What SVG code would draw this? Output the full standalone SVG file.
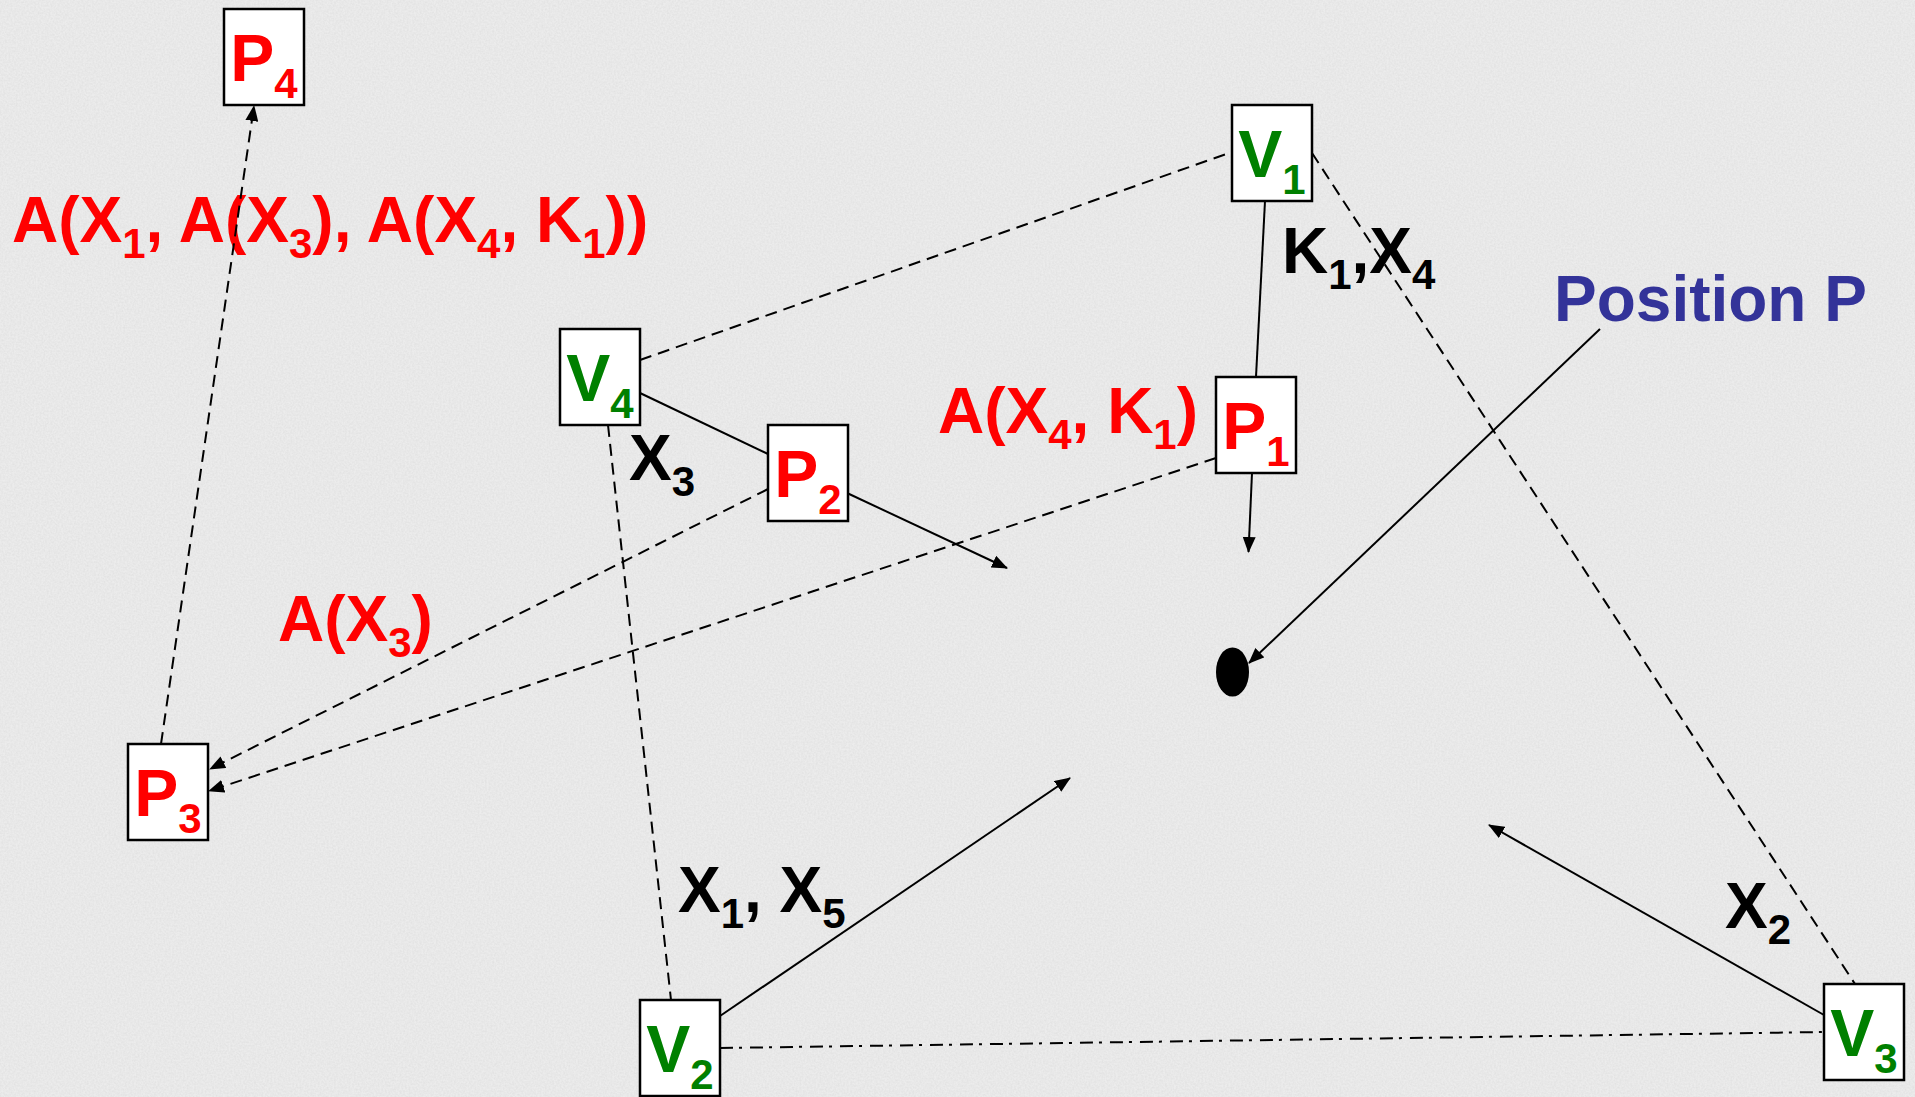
<svg xmlns="http://www.w3.org/2000/svg" width="1915" height="1097" viewBox="0 0 1915 1097">
<style>
.lbl{font-family:"Liberation Sans",Arial,sans-serif;font-weight:bold;font-size:64px}
.nt{font-family:"Liberation Sans",Arial,sans-serif;font-weight:bold;font-size:66px;text-anchor:middle}
.red{fill:#ff0000}
.grn{fill:#008000}
.blk{fill:#000}
.blu{fill:#333399}
.box{fill:#fff;stroke:#000;stroke-width:2.5}
.sol{fill:none;stroke:#000;stroke-width:2}
.dsh{fill:none;stroke:#000;stroke-width:2;stroke-dasharray:12 7}
.dd{fill:none;stroke:#000;stroke-width:2;stroke-dasharray:13 6 3 8}
.arr{marker-end:url(#ah)}
</style>
<defs>
<marker id="ah" markerUnits="userSpaceOnUse" markerWidth="16" markerHeight="13" refX="15" refY="6.5" orient="auto">
<path d="M0,0 L16,6.5 L0,13 z" fill="#000"/>
</marker>
<filter id="noise" x="0" y="0" width="100%" height="100%">
<feTurbulence type="fractalNoise" baseFrequency="0.55" numOctaves="2" seed="3" result="n"/>
<feColorMatrix type="matrix" values="0 0 0 0 0.55  0 0 0 0 0.55  0 0 0 0 0.55  0.9 0 0 0 -0.25" in="n"/>
</filter>
</defs>
<rect width="1915" height="1097" fill="#ececec"/>
<rect width="1915" height="1097" filter="url(#noise)" opacity="0.45"/>

<g id="labels">
<text class="lbl red" x="12" y="242">A(X<tspan font-size="42" dy="16">1</tspan><tspan dy="-16">, A(X</tspan><tspan font-size="42" dy="16">3</tspan><tspan dy="-16">), A(X</tspan><tspan font-size="42" dy="16">4</tspan><tspan dy="-16">, K</tspan><tspan font-size="42" dy="16">1</tspan><tspan dy="-16">))</tspan></text>
<text class="lbl blk" x="1282" y="273">K<tspan font-size="42" dy="16">1</tspan><tspan dy="-16">,X</tspan><tspan font-size="42" dy="16">4</tspan></text>
<text class="lbl blu" x="1554" y="321">Position P</text>
<text class="lbl red" x="938" y="433">A(X<tspan font-size="42" dy="16">4</tspan><tspan dy="-16">, K</tspan><tspan font-size="42" dy="16">1</tspan><tspan dy="-16">)</tspan></text>
<text class="lbl blk" x="629" y="480">X<tspan font-size="42" dy="16">3</tspan></text>
<text class="lbl red" x="278" y="641">A(X<tspan font-size="42" dy="16">3</tspan><tspan dy="-16">)</tspan></text>
<text class="lbl blk" x="678" y="912">X<tspan font-size="42" dy="16">1</tspan><tspan dy="-16">, X</tspan><tspan font-size="42" dy="16">5</tspan></text>
<text class="lbl blk" x="1725" y="928">X<tspan font-size="42" dy="16">2</tspan></text>
</g>

<g id="connectors">
<line class="dsh arr" x1="161" y1="744" x2="254" y2="106"/>
<line class="dsh" x1="640" y1="360" x2="1232" y2="152"/>
<line class="dsh" x1="1312" y1="153" x2="1855" y2="984"/>
<line class="sol" x1="1265" y1="201" x2="1256" y2="377"/>
<line class="sol arr" x1="1252" y1="473" x2="1248.5" y2="552"/>
<line class="sol" x1="640" y1="393" x2="768" y2="454"/>
<line class="sol arr" x1="847" y1="493" x2="1007" y2="568"/>
<line class="dsh" x1="608" y1="425" x2="671" y2="1000"/>
<line class="dsh arr" x1="768" y1="489" x2="210" y2="769"/>
<line class="dsh arr" x1="1216" y1="458" x2="209" y2="791"/>
<line class="sol arr" x1="720" y1="1016" x2="1070" y2="778"/>
<line class="dd" x1="720" y1="1048" x2="1824" y2="1032"/>
<line class="sol arr" x1="1824" y1="1015" x2="1489" y2="825"/>
<line class="sol arr" x1="1600" y1="329" x2="1249" y2="663"/>
</g>

<g id="dot"><ellipse cx="1232.5" cy="672" rx="16.5" ry="24.5" fill="#000"/></g>

<g id="P4"><rect class="box" x="224" y="9" width="80" height="96"/><text class="nt red" x="264" y="81">P<tspan font-size="42" dy="17">4</tspan></text></g>
<g id="V1"><rect class="box" x="1232" y="105" width="80" height="96"/><text class="nt grn" x="1272" y="177">V<tspan font-size="42" dy="17">1</tspan></text></g>
<g id="V4"><rect class="box" x="560" y="329" width="80" height="96"/><text class="nt grn" x="600" y="401">V<tspan font-size="42" dy="17">4</tspan></text></g>
<g id="P2"><rect class="box" x="768" y="425" width="80" height="96"/><text class="nt red" x="808" y="497">P<tspan font-size="42" dy="17">2</tspan></text></g>
<g id="P1"><rect class="box" x="1216" y="377" width="80" height="96"/><text class="nt red" x="1256" y="449">P<tspan font-size="42" dy="17">1</tspan></text></g>
<g id="P3"><rect class="box" x="128" y="744" width="80" height="96"/><text class="nt red" x="168" y="816">P<tspan font-size="42" dy="17">3</tspan></text></g>
<g id="V2"><rect class="box" x="640" y="1000" width="80" height="96"/><text class="nt grn" x="680" y="1072">V<tspan font-size="42" dy="17">2</tspan></text></g>
<g id="V3"><rect class="box" x="1824" y="984" width="80" height="96"/><text class="nt grn" x="1864" y="1056">V<tspan font-size="42" dy="17">3</tspan></text></g>
</svg>
